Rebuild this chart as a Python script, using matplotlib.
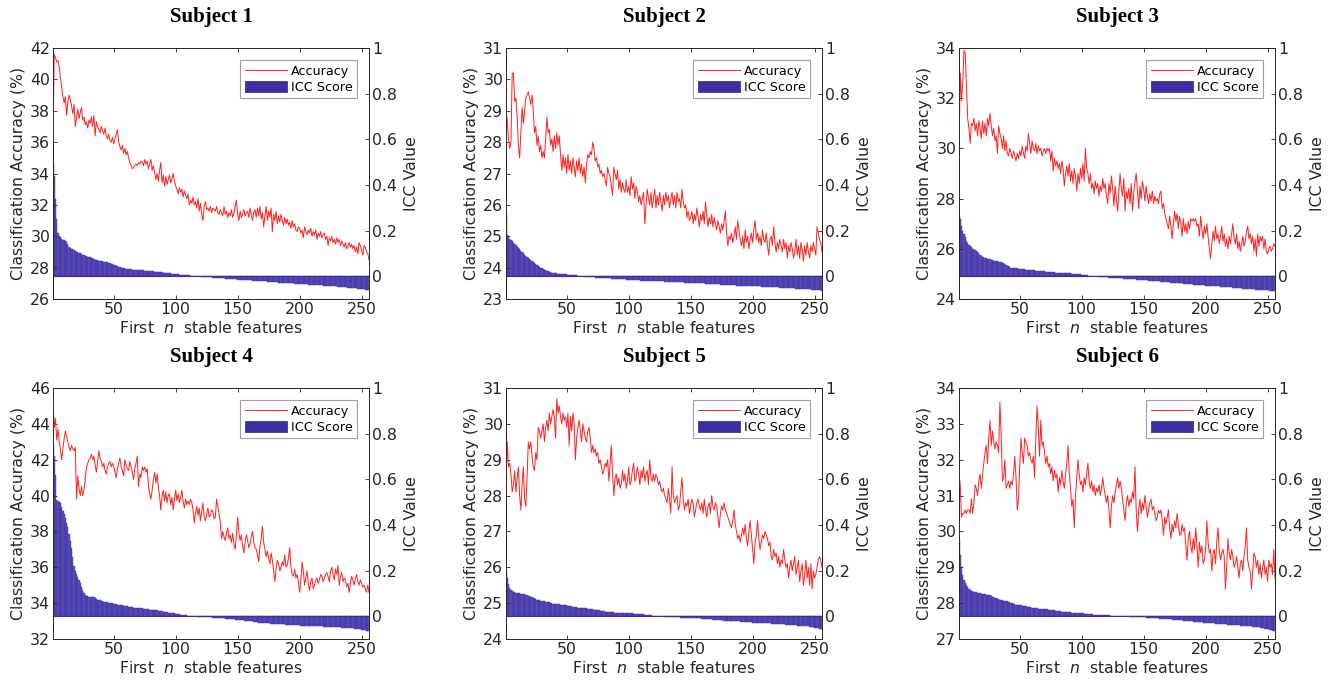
import matplotlib
matplotlib.use("Agg")
import matplotlib.pyplot as plt
from matplotlib.patches import Patch
from matplotlib.lines import Line2D
import numpy as np

# accuracy (%) for the first n stable features, n = 1..256
acc1 = [36.0, 41.6, 41.4, 41.1, 41.2, 40.8, 40.1, 39.5, 38.9, 38.5, 38.9, 37.7, 38.6, 39.0, 38.7, 38.3,
        37.8, 38.4, 37.0, 37.6, 38.1, 37.5, 37.9, 38.2, 37.4, 37.6, 37.1, 37.3, 36.9, 37.4, 37.2, 37.6,
        37.0, 37.7, 36.4, 37.3, 37.0, 36.8, 36.6, 37.0, 36.7, 36.5, 36.9, 36.4, 36.2, 36.5, 36.1, 36.0,
        36.3, 35.9, 36.2, 36.5, 36.8, 36.0, 35.7, 35.5, 35.8, 35.3, 35.6, 35.2, 35.4, 35.0, 34.7, 34.5,
        34.3, 34.4, 34.5, 34.6, 34.5, 34.7, 34.6, 34.8, 34.7, 34.5, 34.9, 34.6, 34.8, 34.3, 34.6, 34.9,
        34.2, 34.5, 34.1, 33.6, 34.0, 33.5, 34.2, 34.7, 33.4, 33.9, 33.2, 33.8, 33.3, 33.6, 33.9, 33.4,
        33.7, 34.0, 33.5, 33.2, 33.0, 32.7, 33.1, 32.8, 33.0, 32.5, 32.9, 32.6, 32.4, 32.7, 32.0, 32.3,
        32.1, 32.5, 32.0, 32.2, 31.8, 32.4, 31.6, 32.1, 31.4, 31.0, 31.9, 32.2, 31.7, 31.8, 31.6, 31.9,
        31.5, 31.8, 31.7, 31.6, 31.9, 31.5, 31.4, 31.7, 31.5, 31.3, 31.9, 31.4, 31.6, 31.2, 31.5, 31.3,
        31.7, 31.2, 31.5, 31.9, 32.3, 31.4, 31.0, 31.6, 31.2, 31.4, 31.7, 31.3, 31.5, 31.6, 31.2, 31.8,
        31.4, 31.0, 31.5, 31.7, 31.2, 31.8, 31.3, 31.9, 31.1, 31.5, 30.6, 31.3, 31.9, 31.0, 31.6, 31.2,
        31.8, 30.3, 31.4, 31.0, 31.6, 30.8, 31.3, 30.9, 31.4, 31.0, 30.7, 31.2, 30.8, 31.1, 30.7, 30.9,
        30.5, 31.0, 30.6, 30.8, 30.4, 30.3, 30.6, 30.5, 30.2, 30.4, 29.9, 30.6, 30.3, 30.1, 30.4, 30.2,
        30.5, 30.0, 30.3, 30.1, 30.4, 29.8, 30.2, 30.0, 30.3, 29.9, 30.1, 30.2, 29.8, 30.0, 29.4, 29.9,
        29.7, 30.0, 29.6, 29.8, 29.5, 29.9, 29.6, 29.8, 29.4, 29.7, 29.5, 29.3, 29.6, 29.2, 29.4, 29.6,
        29.3, 29.5, 29.2, 29.4, 29.0, 29.3, 28.9, 29.6, 29.4, 29.1, 28.8, 29.4, 29.3, 29.0, 28.9, 28.5]

acc2 = [29.0, 28.7, 28.1, 27.8, 28.0, 30.2, 30.2, 29.3, 29.4, 28.8, 27.9, 27.5, 28.3, 29.1, 28.6, 29.0,
        29.4, 29.5, 29.6, 29.4, 29.2, 29.5, 29.0, 28.3, 28.5, 27.9, 28.2, 27.7, 27.9, 27.5, 27.7, 27.5,
        28.1, 28.8, 28.3, 28.4, 27.9, 28.1, 27.7, 28.2, 27.8, 28.3, 27.9, 28.2, 27.6, 27.1, 27.6, 27.2,
        27.5, 27.0, 27.6, 27.1, 27.4, 27.0, 27.5, 27.2, 26.9, 27.4, 27.1, 27.5, 27.0, 27.3, 26.9, 27.2,
        26.7, 27.3, 27.6, 27.5, 27.7, 27.6, 28.0, 27.8, 27.4, 27.5, 27.2, 27.3, 27.0, 27.1, 26.9, 27.0,
        26.8, 26.6, 27.2, 27.0, 26.9, 26.6, 26.3, 27.2, 27.0, 26.8, 27.1, 26.5, 26.8, 26.4, 26.7, 26.5,
        26.4, 26.8, 26.4, 26.6, 26.3, 26.9, 26.5, 26.7, 26.2, 26.6, 26.4, 26.1, 26.3, 26.0, 26.2, 26.4,
        25.4, 26.0, 26.5, 26.2, 26.0, 26.4, 25.9, 26.2, 26.5, 25.9, 26.3, 26.0, 26.4, 26.1, 25.8, 26.3,
        26.0, 26.4, 26.1, 26.3, 25.9, 26.2, 26.4, 26.0, 26.3, 25.9, 26.4, 26.1, 26.2, 25.9, 26.5, 26.1,
        25.9, 26.0, 25.6, 25.8, 25.5, 25.6, 25.8, 25.4, 25.7, 25.5, 25.9, 25.6, 25.3, 25.7, 25.5, 25.8,
        25.4, 26.1, 25.7, 25.3, 25.6, 25.4, 25.7, 25.3, 25.6, 25.4, 25.2, 25.5, 25.3, 25.1, 25.4, 25.2,
        25.5, 25.8, 25.1, 24.7, 25.0, 24.9, 25.1, 24.8, 25.0, 25.3, 24.9, 25.5, 25.2, 24.9, 24.7, 25.0,
        24.6, 25.2, 24.8, 25.0, 24.6, 24.9, 25.1, 24.8, 25.2, 25.5, 24.9, 25.1, 24.8, 25.0, 24.7, 25.2,
        24.9, 24.8, 25.1, 24.7, 24.4, 24.9, 25.0, 24.7, 25.3, 24.8, 24.5, 24.8, 24.6, 24.9, 24.7, 24.5,
        24.9, 24.6, 24.8, 24.3, 24.7, 24.5, 24.8, 24.6, 24.3, 24.5, 24.9, 24.4, 24.7, 24.3, 24.8, 24.6,
        24.2, 24.7, 24.4, 24.8, 24.5, 24.3, 24.7, 24.5, 24.8, 24.6, 24.4, 25.3, 25.1, 24.9, 24.8, 24.5]

acc3 = [29.8, 33.0, 31.9, 32.6, 33.9, 33.8, 32.5, 31.2, 30.8, 30.2, 31.0, 30.9, 31.2, 30.7, 31.0, 30.5,
        31.1, 30.8, 30.4, 31.1, 30.6, 31.0, 30.5, 31.2, 30.9, 31.4, 30.9, 30.5, 30.8, 30.3, 30.5, 29.8,
        30.9, 30.6, 30.4, 30.0, 30.5, 29.9, 30.3, 29.8, 29.7, 30.0, 29.8, 29.6, 29.9, 29.7, 29.5, 29.8,
        29.6, 29.9, 29.7, 30.1, 29.8, 29.6, 30.1, 29.9, 30.6, 30.2, 29.8, 30.3, 30.0, 29.9, 30.2, 29.8,
        30.1, 29.9, 30.0, 29.7, 29.9, 30.0, 29.8, 30.0, 29.9, 30.0, 29.5, 29.9, 29.1, 29.6, 29.3, 29.5,
        29.2, 29.4, 29.0, 29.5, 29.2, 28.5, 29.0, 29.3, 28.9, 29.4, 28.7, 29.1, 28.6, 29.2, 28.9, 28.3,
        29.0, 28.6, 29.2, 28.8, 29.4, 28.7, 30.0, 29.2, 29.0, 28.6, 29.0, 28.4, 28.6, 28.2, 28.7, 28.4,
        28.6, 28.1, 28.5, 28.3, 28.8, 28.4, 28.6, 28.1, 27.8, 28.6, 28.2, 28.9, 28.4, 27.7, 28.5, 28.0,
        27.5, 28.3, 29.0, 28.4, 28.1, 28.8, 27.5, 28.3, 28.0, 28.4, 27.8, 28.6, 27.5, 28.2, 28.7, 29.0,
        28.3, 27.6, 28.5, 28.0, 28.7, 28.4, 27.9, 28.5, 28.1, 27.8, 28.2, 27.9, 28.3, 27.8, 28.1, 27.9,
        28.0, 27.8, 28.2, 28.3, 27.6, 27.8, 27.4, 27.2, 27.0, 26.8, 27.3, 26.9, 26.4, 27.0, 27.5, 27.1,
        27.4, 26.8, 27.3, 27.0, 26.5, 27.2, 26.7, 27.0, 26.6, 27.1, 26.8, 27.2, 27.1, 27.2, 27.1, 27.2,
        26.9, 27.0, 26.5, 27.3, 26.8, 26.4, 26.9, 26.6, 27.0, 26.5, 26.0, 25.6, 26.2, 26.7, 26.3, 26.9,
        26.4, 26.6, 26.2, 26.5, 26.9, 26.3, 26.6, 26.1, 26.4, 26.0, 26.5, 26.2, 26.6, 27.0, 26.4, 26.2,
        26.6, 26.0, 26.3, 25.9, 26.2, 26.5, 26.1, 26.3, 26.7, 26.9, 26.4, 26.6, 26.2, 26.5, 25.9, 26.4,
        25.7, 26.6, 26.1, 26.5, 26.3, 26.5, 26.0, 26.4, 25.9, 25.8, 26.0, 26.1, 25.9, 26.0, 26.2, 26.1]

acc4 = [45.2, 43.8, 44.3, 43.1, 43.7, 43.0, 42.6, 42.0, 42.6, 43.2, 43.6, 43.3, 43.0, 42.7, 42.5, 42.8,
        42.6, 42.5, 42.7, 39.8, 41.1, 40.4, 40.0, 40.5, 40.0, 40.3, 40.9, 41.6, 41.8, 42.0, 42.1, 42.3,
        42.0, 42.2, 41.7, 41.3, 41.9, 42.5, 42.1, 41.9, 41.6, 41.8, 41.4, 41.2, 41.6, 41.8, 41.9, 41.6,
        41.8, 41.6, 41.3, 41.0, 41.5, 41.8, 42.1, 41.6, 41.4, 41.1, 42.0, 41.7, 41.5, 41.4, 41.9, 41.6,
        41.3, 40.9, 41.5, 41.8, 42.2, 40.5, 41.2, 41.0, 41.6, 41.4, 41.6, 41.3, 41.5, 40.6, 40.1, 39.8,
        40.3, 40.9, 41.3, 40.7, 41.2, 40.5, 40.0, 39.2, 40.0, 40.3, 39.7, 40.2, 39.6, 40.0, 40.1, 39.5,
        39.9, 39.2, 39.8, 40.3, 39.7, 40.1, 39.6, 39.9, 40.3, 39.7, 39.3, 39.8, 39.5, 39.7, 39.5, 39.8,
        39.6, 39.2, 38.5, 39.0, 39.4, 38.9, 39.3, 38.6, 39.1, 39.6, 38.8, 38.6, 39.0, 39.3, 38.8, 38.9,
        39.2, 39.1, 38.7, 38.8, 39.8, 39.4, 39.0, 38.5, 37.6, 38.0, 37.7, 37.5, 37.9, 38.2, 37.6, 37.8,
        37.4, 37.9, 37.3, 37.0, 37.8, 38.8, 37.9, 37.5, 37.8, 37.2, 36.8, 37.4, 37.8, 37.5, 37.1, 37.3,
        37.7, 38.0, 37.4, 37.1, 37.0, 36.7, 36.3, 37.2, 37.6, 38.3, 37.4, 37.0, 36.6, 36.9, 36.5, 36.2,
        36.8, 36.4, 35.8, 35.2, 35.9, 36.4, 36.2, 35.8, 36.0, 36.3, 36.1, 36.7, 36.0, 36.1, 36.5, 37.1,
        36.0, 35.6, 35.5, 35.9, 35.4, 35.6, 35.2, 34.6, 35.3, 36.3, 35.8, 35.0, 35.4, 35.8, 35.1, 34.7,
        35.2, 35.4, 34.8, 35.0, 35.3, 35.4, 35.1, 35.3, 35.6, 35.5, 35.2, 35.4, 35.6, 35.7, 35.5, 35.2,
        35.8, 36.0, 35.6, 35.3, 35.9, 35.6, 36.1, 35.0, 35.5, 35.7, 35.2, 35.4, 35.3, 34.9, 35.1, 34.6,
        35.1, 35.5, 35.3, 35.0, 35.4, 35.6, 35.2, 35.0, 35.3, 35.1, 34.9, 35.0, 34.8, 34.6, 35.0, 34.6]

acc5 = [28.2, 29.5, 28.8, 28.9, 28.6, 28.1, 28.3, 28.7, 28.1, 28.5, 28.8, 28.0, 27.6, 28.3, 28.8, 27.9,
        27.7, 28.5, 29.5, 29.3, 29.5, 29.1, 28.8, 28.7, 29.2, 29.0, 29.9, 29.8, 29.6, 29.8, 30.0, 29.5,
        29.9, 30.1, 29.8, 30.3, 30.0, 30.2, 30.4, 30.2, 29.6, 30.7, 30.3, 30.5, 30.2, 30.0, 30.3, 30.1,
        30.2, 29.9, 30.3, 29.4, 30.2, 29.8, 30.3, 30.0, 29.0, 29.6, 29.9, 30.1, 29.8, 29.5, 30.0, 29.8,
        29.6, 29.5, 29.8, 29.9, 29.6, 29.2, 29.4, 29.2, 29.3, 29.1, 29.2, 28.9, 29.0, 28.8, 28.6, 28.7,
        28.9, 28.8, 29.0, 28.4, 28.9, 29.4, 28.6, 28.0, 28.5, 28.6, 28.3, 28.5, 28.2, 28.3, 28.7, 28.4,
        28.6, 28.2, 28.4, 28.8, 28.3, 28.4, 28.7, 28.9, 28.4, 28.5, 28.8, 28.6, 28.3, 28.7, 28.5, 28.8,
        28.4, 28.6, 28.7, 28.3, 29.0, 28.5, 28.4, 28.6, 28.4, 28.6, 28.5, 28.3, 28.4, 28.2, 28.1, 28.2,
        28.0, 27.9, 27.8, 28.2, 27.9, 27.5, 28.8, 28.0, 27.8, 27.9, 28.0, 27.6, 27.7, 28.1, 28.5, 27.9,
        27.6, 27.8, 27.7, 27.9, 27.5, 27.7, 27.9, 27.8, 27.4, 27.6, 27.8, 27.9, 27.7, 27.6, 27.8, 27.5,
        27.9, 27.6, 27.4, 27.7, 27.8, 27.5, 28.0, 27.7, 27.6, 27.8, 27.7, 27.4, 27.1, 27.5, 27.7, 27.6,
        27.8, 27.6, 27.5, 27.4, 27.3, 27.2, 27.1, 27.3, 27.6, 27.2, 27.0, 26.8, 26.9, 26.7, 26.9, 27.1,
        26.9, 27.2, 26.8, 26.6, 27.0, 27.3, 26.9, 26.5, 26.1, 26.7, 26.9, 27.3, 26.8, 26.5, 26.7, 26.9,
        26.8, 27.0, 26.9, 26.8, 26.6, 26.7, 26.3, 26.2, 26.5, 26.3, 26.4, 26.1, 26.3, 26.0, 26.2, 26.1,
        26.5, 26.2, 26.0, 26.1, 25.7, 26.0, 26.2, 25.9, 26.1, 26.3, 25.8, 26.0, 26.2, 25.6, 25.9, 26.1,
        25.5, 25.8, 26.2, 25.7, 26.0, 25.5, 26.1, 25.4, 25.9, 25.7, 25.8, 26.0, 26.2, 26.3, 26.2, 26.0]

acc6 = [31.6, 31.3, 30.4, 30.5, 30.5, 30.6, 30.5, 30.6, 30.6, 30.5, 30.9, 30.5, 30.8, 31.3, 31.2, 31.0,
        31.4, 31.6, 31.2, 31.6, 31.9, 32.2, 32.4, 31.9, 32.6, 33.1, 32.4, 32.8, 32.5, 32.3, 32.5, 32.4,
        32.2, 33.6, 32.7, 31.4, 31.5, 32.0, 31.2, 31.3, 31.4, 31.2, 31.4, 31.3, 31.6, 32.1, 31.5, 30.6,
        30.9, 31.8, 32.6, 32.2, 31.9, 32.6, 32.5, 32.4, 32.1, 32.2, 32.0, 31.9, 32.1, 31.5, 32.6, 33.5,
        32.9, 32.1, 33.1, 32.4, 32.5, 32.2, 31.9, 32.1, 31.8, 31.9, 31.6, 31.8, 31.4, 31.7, 31.5, 31.6,
        31.1, 31.5, 31.3, 31.7, 31.4, 31.2, 31.6, 31.9, 32.4, 31.6, 31.2, 30.7, 30.9, 30.1, 31.0, 31.5,
        32.0, 31.6, 31.3, 31.4, 31.1, 31.5, 31.3, 31.6, 31.9, 31.4, 31.2, 31.4, 31.1, 31.3, 31.0, 31.2,
        31.1, 31.3, 31.0, 31.2, 31.5, 31.2, 31.0, 30.8, 31.0, 30.6, 30.1, 30.7, 31.0, 30.8, 31.1, 31.3,
        31.5, 31.2, 31.4, 31.2, 30.9, 30.6, 30.3, 30.8, 31.0, 30.7, 30.9, 30.8, 31.1, 30.9, 31.8, 30.6,
        30.0, 30.6, 30.9, 30.5, 30.8, 30.6, 31.0, 30.7, 30.4, 30.6, 30.8, 30.9, 30.6, 30.7, 30.5, 30.3,
        30.4, 30.6, 30.5, 30.6, 30.3, 29.9, 30.4, 30.2, 30.4, 30.6, 30.1, 29.8, 30.2, 30.0, 30.3, 30.1,
        30.5, 30.2, 29.9, 29.9, 30.2, 30.0, 30.1, 29.6, 29.2, 29.8, 30.0, 29.6, 29.4, 29.8, 29.5, 30.1,
        29.6, 29.0, 29.7, 29.4, 29.6, 29.1, 29.2, 29.5, 30.3, 29.7, 29.4, 29.5, 28.9, 29.4, 29.5, 29.1,
        29.7, 30.1, 29.5, 29.2, 29.4, 29.5, 29.3, 28.4, 29.0, 29.8, 29.4, 29.2, 29.5, 29.3, 29.0, 29.1,
        29.3, 29.0, 28.7, 29.1, 29.2, 28.9, 29.3, 29.6, 30.1, 29.2, 29.0, 28.9, 28.4, 28.9, 29.4, 29.3,
        29.0, 29.2, 28.8, 29.1, 28.7, 29.0, 29.2, 28.8, 29.0, 28.6, 29.2, 29.0, 29.1, 28.8, 29.5, 28.7]

# ICC score of each feature, sorted from most to least stable
icc1 = [0.49, 0.44, 0.34, 0.25, 0.19, 0.175, 0.17, 0.165, 0.16, 0.158, 0.155, 0.15, 0.14, 0.13, 0.125, 0.12,
        0.118, 0.115, 0.11, 0.108, 0.105, 0.102, 0.1, 0.098, 0.095, 0.092, 0.09, 0.088, 0.086, 0.084, 0.082, 0.08,
        0.078, 0.076, 0.072, 0.07, 0.069, 0.068, 0.067, 0.066, 0.065, 0.064, 0.063, 0.062, 0.06, 0.058, 0.056, 0.054,
        0.052, 0.05, 0.048, 0.046, 0.044, 0.042, 0.04, 0.038, 0.036, 0.035, 0.034, 0.033, 0.032, 0.031, 0.03, 0.03,
        0.029, 0.029, 0.028, 0.028, 0.027, 0.027, 0.026, 0.026, 0.025, 0.025, 0.024, 0.024, 0.023, 0.023, 0.022, 0.022,
        0.021, 0.021, 0.02, 0.02, 0.019, 0.019, 0.018, 0.018, 0.017, 0.016, 0.015, 0.015, 0.014, 0.013, 0.012, 0.012,
        0.011, 0.01, 0.01, 0.009, 0.008, 0.008, 0.007, 0.006, 0.006, 0.005, 0.005, 0.004, 0.004, 0.003, 0.003, 0.002,
        0.002, 0.001, 0.001, 0.0, 0.0, 0.0, -0.001, -0.001, -0.002, -0.002, -0.002, -0.003, -0.003, -0.004, -0.004, -0.005,
        -0.005, -0.006, -0.006, -0.007, -0.007, -0.008, -0.008, -0.009, -0.009, -0.01, -0.01, -0.011, -0.011, -0.012, -0.012, -0.013,
        -0.013, -0.013, -0.014, -0.014, -0.014, -0.015, -0.015, -0.015, -0.016, -0.016, -0.016, -0.017, -0.017, -0.017, -0.018, -0.018,
        -0.018, -0.019, -0.019, -0.019, -0.02, -0.02, -0.021, -0.021, -0.021, -0.022, -0.022, -0.023, -0.023, -0.024, -0.024, -0.025,
        -0.025, -0.025, -0.026, -0.026, -0.027, -0.027, -0.028, -0.028, -0.028, -0.029, -0.029, -0.03, -0.03, -0.03, -0.031, -0.031,
        -0.031, -0.032, -0.032, -0.033, -0.033, -0.033, -0.034, -0.034, -0.035, -0.035, -0.035, -0.036, -0.036, -0.036, -0.037, -0.037,
        -0.037, -0.038, -0.038, -0.038, -0.039, -0.039, -0.039, -0.04, -0.04, -0.04, -0.041, -0.041, -0.041, -0.042, -0.042, -0.043,
        -0.043, -0.043, -0.044, -0.044, -0.045, -0.045, -0.046, -0.046, -0.047, -0.047, -0.048, -0.048, -0.049, -0.049, -0.05, -0.05,
        -0.051, -0.051, -0.052, -0.052, -0.053, -0.053, -0.054, -0.055, -0.055, -0.056, -0.057, -0.058, -0.059, -0.06, -0.061, -0.062]

icc2 = [0.27, 0.18, 0.172, 0.165, 0.158, 0.152, 0.146, 0.14, 0.135, 0.13, 0.124, 0.118, 0.112, 0.106, 0.1, 0.095,
        0.09, 0.085, 0.08, 0.075, 0.07, 0.065, 0.06, 0.056, 0.052, 0.048, 0.045, 0.042, 0.038, 0.035, 0.032, 0.029,
        0.026, 0.024, 0.022, 0.02, 0.018, 0.016, 0.015, 0.014, 0.013, 0.012, 0.011, 0.011, 0.01, 0.01, 0.009, 0.009,
        0.008, 0.008, 0.007, 0.007, 0.006, 0.006, 0.005, 0.004, 0.004, 0.003, 0.002, 0.002, 0.001, 0.0, -0.001, -0.001,
        -0.002, -0.002, -0.003, -0.003, -0.004, -0.004, -0.005, -0.005, -0.006, -0.006, -0.007, -0.007, -0.007, -0.008, -0.008, -0.009,
        -0.009, -0.009, -0.01, -0.01, -0.01, -0.011, -0.011, -0.011, -0.012, -0.012, -0.012, -0.013, -0.013, -0.013, -0.014, -0.014,
        -0.014, -0.015, -0.015, -0.015, -0.016, -0.016, -0.016, -0.017, -0.017, -0.017, -0.018, -0.018, -0.018, -0.019, -0.019, -0.019,
        -0.02, -0.02, -0.02, -0.02, -0.021, -0.021, -0.021, -0.021, -0.022, -0.022, -0.022, -0.022, -0.023, -0.023, -0.023, -0.023,
        -0.024, -0.024, -0.024, -0.024, -0.025, -0.025, -0.025, -0.025, -0.026, -0.026, -0.026, -0.026, -0.027, -0.027, -0.027, -0.027,
        -0.028, -0.028, -0.028, -0.028, -0.029, -0.029, -0.029, -0.03, -0.03, -0.03, -0.03, -0.031, -0.031, -0.031, -0.032, -0.032,
        -0.032, -0.033, -0.033, -0.033, -0.034, -0.034, -0.034, -0.035, -0.035, -0.035, -0.036, -0.036, -0.036, -0.037, -0.037, -0.037,
        -0.038, -0.038, -0.038, -0.039, -0.039, -0.039, -0.04, -0.04, -0.04, -0.04, -0.041, -0.041, -0.041, -0.041, -0.042, -0.042,
        -0.042, -0.042, -0.043, -0.043, -0.043, -0.043, -0.044, -0.044, -0.044, -0.044, -0.045, -0.045, -0.045, -0.045, -0.046, -0.046,
        -0.046, -0.046, -0.047, -0.047, -0.047, -0.047, -0.048, -0.048, -0.048, -0.048, -0.049, -0.049, -0.049, -0.05, -0.05, -0.05,
        -0.05, -0.051, -0.051, -0.051, -0.052, -0.052, -0.052, -0.053, -0.053, -0.053, -0.054, -0.054, -0.054, -0.055, -0.055, -0.055,
        -0.056, -0.056, -0.057, -0.057, -0.057, -0.058, -0.058, -0.059, -0.059, -0.06, -0.06, -0.061, -0.061, -0.062, -0.062, -0.063]

icc3 = [0.265, 0.25, 0.22, 0.2, 0.185, 0.17, 0.155, 0.145, 0.138, 0.132, 0.126, 0.12, 0.117, 0.114, 0.111, 0.108,
        0.1, 0.095, 0.09, 0.086, 0.083, 0.08, 0.078, 0.076, 0.075, 0.074, 0.072, 0.07, 0.068, 0.067, 0.066, 0.065,
        0.064, 0.062, 0.06, 0.058, 0.056, 0.053, 0.05, 0.046, 0.043, 0.04, 0.038, 0.037, 0.036, 0.035, 0.034, 0.034,
        0.033, 0.033, 0.032, 0.031, 0.031, 0.03, 0.029, 0.029, 0.028, 0.027, 0.027, 0.026, 0.025, 0.025, 0.024, 0.024,
        0.023, 0.023, 0.022, 0.022, 0.021, 0.021, 0.02, 0.02, 0.019, 0.019, 0.018, 0.018, 0.017, 0.017, 0.016, 0.016,
        0.016, 0.015, 0.015, 0.014, 0.014, 0.014, 0.013, 0.013, 0.012, 0.012, 0.012, 0.011, 0.011, 0.01, 0.01, 0.009,
        0.009, 0.008, 0.008, 0.007, 0.006, 0.005, 0.004, 0.003, 0.003, 0.002, 0.002, 0.001, 0.001, 0.0, 0.0, -0.001,
        -0.001, -0.002, -0.002, -0.003, -0.003, -0.004, -0.004, -0.005, -0.005, -0.006, -0.006, -0.006, -0.007, -0.007, -0.008, -0.008,
        -0.008, -0.009, -0.009, -0.01, -0.01, -0.011, -0.011, -0.011, -0.012, -0.012, -0.013, -0.013, -0.013, -0.014, -0.014, -0.015,
        -0.015, -0.015, -0.016, -0.016, -0.016, -0.017, -0.017, -0.018, -0.018, -0.019, -0.019, -0.02, -0.02, -0.021, -0.021, -0.022,
        -0.022, -0.023, -0.023, -0.024, -0.024, -0.025, -0.025, -0.026, -0.026, -0.027, -0.027, -0.028, -0.028, -0.029, -0.029, -0.03,
        -0.03, -0.031, -0.031, -0.032, -0.032, -0.033, -0.033, -0.034, -0.034, -0.035, -0.035, -0.036, -0.036, -0.037, -0.037, -0.038,
        -0.038, -0.038, -0.039, -0.039, -0.04, -0.04, -0.04, -0.041, -0.041, -0.042, -0.042, -0.043, -0.043, -0.043, -0.044, -0.044,
        -0.045, -0.045, -0.045, -0.046, -0.046, -0.047, -0.047, -0.047, -0.048, -0.048, -0.049, -0.049, -0.049, -0.05, -0.05, -0.051,
        -0.051, -0.052, -0.052, -0.053, -0.053, -0.054, -0.054, -0.055, -0.055, -0.056, -0.056, -0.057, -0.057, -0.058, -0.058, -0.059,
        -0.059, -0.06, -0.06, -0.06, -0.061, -0.061, -0.061, -0.062, -0.062, -0.062, -0.062, -0.063, -0.063, -0.063, -0.063, -0.064]

icc4 = [0.75, 0.7, 0.62, 0.51, 0.505, 0.5, 0.495, 0.48, 0.46, 0.45, 0.43, 0.41, 0.39, 0.36, 0.33, 0.3,
        0.26, 0.22, 0.2, 0.185, 0.17, 0.16, 0.145, 0.13, 0.115, 0.1, 0.093, 0.09, 0.088, 0.086, 0.085, 0.084,
        0.083, 0.082, 0.08, 0.076, 0.073, 0.072, 0.07, 0.068, 0.066, 0.064, 0.062, 0.061, 0.06, 0.059, 0.058, 0.057,
        0.056, 0.055, 0.054, 0.052, 0.051, 0.05, 0.049, 0.048, 0.047, 0.046, 0.045, 0.044, 0.043, 0.042, 0.041, 0.04,
        0.039, 0.038, 0.037, 0.036, 0.036, 0.035, 0.035, 0.034, 0.034, 0.033, 0.032, 0.032, 0.031, 0.03, 0.029, 0.028,
        0.028, 0.027, 0.026, 0.026, 0.025, 0.024, 0.023, 0.022, 0.021, 0.02, 0.019, 0.018, 0.017, 0.016, 0.015, 0.014,
        0.013, 0.013, 0.012, 0.011, 0.01, 0.009, 0.008, 0.007, 0.007, 0.006, 0.005, 0.004, 0.003, 0.002, 0.002, 0.001,
        0.0, 0.0, -0.001, -0.001, -0.001, -0.002, -0.002, -0.002, -0.003, -0.003, -0.003, -0.004, -0.004, -0.004, -0.005, -0.005,
        -0.005, -0.006, -0.006, -0.007, -0.007, -0.008, -0.008, -0.009, -0.009, -0.01, -0.01, -0.011, -0.011, -0.012, -0.012, -0.013,
        -0.013, -0.014, -0.014, -0.015, -0.015, -0.016, -0.016, -0.017, -0.017, -0.018, -0.018, -0.019, -0.019, -0.02, -0.02, -0.021,
        -0.022, -0.023, -0.024, -0.025, -0.026, -0.027, -0.028, -0.029, -0.03, -0.03, -0.031, -0.031, -0.031, -0.032, -0.032, -0.032,
        -0.033, -0.033, -0.033, -0.034, -0.034, -0.034, -0.035, -0.035, -0.035, -0.036, -0.036, -0.036, -0.037, -0.037, -0.037, -0.038,
        -0.038, -0.038, -0.039, -0.039, -0.039, -0.04, -0.04, -0.04, -0.041, -0.041, -0.041, -0.042, -0.042, -0.042, -0.043, -0.043,
        -0.043, -0.043, -0.044, -0.044, -0.044, -0.044, -0.045, -0.045, -0.045, -0.045, -0.046, -0.046, -0.046, -0.046, -0.047, -0.047,
        -0.047, -0.047, -0.048, -0.048, -0.048, -0.048, -0.049, -0.049, -0.049, -0.05, -0.05, -0.05, -0.051, -0.051, -0.051, -0.052,
        -0.052, -0.053, -0.053, -0.054, -0.054, -0.055, -0.056, -0.057, -0.058, -0.059, -0.06, -0.061, -0.062, -0.064, -0.065, -0.067]

icc5 = [0.2, 0.167, 0.14, 0.125, 0.115, 0.11, 0.107, 0.104, 0.103, 0.102, 0.101, 0.1, 0.099, 0.098, 0.097, 0.096,
        0.094, 0.092, 0.09, 0.088, 0.086, 0.083, 0.08, 0.078, 0.075, 0.073, 0.071, 0.07, 0.068, 0.067, 0.066, 0.065,
        0.064, 0.063, 0.062, 0.06, 0.059, 0.057, 0.055, 0.054, 0.053, 0.053, 0.052, 0.052, 0.051, 0.05, 0.049, 0.048,
        0.047, 0.047, 0.046, 0.045, 0.044, 0.043, 0.042, 0.041, 0.04, 0.039, 0.038, 0.038, 0.037, 0.037, 0.036, 0.036,
        0.035, 0.034, 0.033, 0.032, 0.031, 0.031, 0.03, 0.029, 0.028, 0.027, 0.026, 0.025, 0.024, 0.023, 0.022, 0.021,
        0.02, 0.02, 0.019, 0.019, 0.018, 0.018, 0.017, 0.017, 0.016, 0.016, 0.016, 0.015, 0.015, 0.014, 0.014, 0.014,
        0.013, 0.013, 0.013, 0.013, 0.012, 0.012, 0.012, 0.011, 0.011, 0.01, 0.01, 0.01, 0.009, 0.009, 0.008, 0.008,
        0.007, 0.006, 0.005, 0.004, 0.003, 0.003, 0.002, 0.002, 0.001, 0.001, 0.0, 0.0, 0.0, -0.001, -0.001, -0.001,
        -0.002, -0.002, -0.002, -0.003, -0.003, -0.003, -0.004, -0.004, -0.004, -0.005, -0.005, -0.005, -0.005, -0.006, -0.006, -0.006,
        -0.006, -0.007, -0.007, -0.007, -0.007, -0.008, -0.008, -0.008, -0.009, -0.009, -0.009, -0.01, -0.01, -0.01, -0.011, -0.011,
        -0.011, -0.012, -0.012, -0.013, -0.013, -0.014, -0.014, -0.015, -0.015, -0.016, -0.016, -0.017, -0.017, -0.018, -0.018, -0.018,
        -0.019, -0.019, -0.019, -0.02, -0.02, -0.021, -0.021, -0.021, -0.022, -0.022, -0.022, -0.023, -0.023, -0.024, -0.024, -0.024,
        -0.025, -0.025, -0.026, -0.026, -0.026, -0.027, -0.027, -0.028, -0.028, -0.028, -0.029, -0.029, -0.029, -0.03, -0.03, -0.03,
        -0.031, -0.031, -0.031, -0.032, -0.032, -0.032, -0.033, -0.033, -0.033, -0.034, -0.034, -0.034, -0.035, -0.035, -0.035, -0.036,
        -0.036, -0.036, -0.037, -0.037, -0.037, -0.038, -0.038, -0.039, -0.039, -0.04, -0.04, -0.041, -0.041, -0.042, -0.042, -0.043,
        -0.043, -0.044, -0.044, -0.045, -0.045, -0.046, -0.047, -0.048, -0.049, -0.05, -0.051, -0.052, -0.053, -0.054, -0.056, -0.057]

icc6 = [0.335, 0.27, 0.215, 0.18, 0.16, 0.145, 0.135, 0.127, 0.12, 0.116, 0.112, 0.11, 0.108, 0.106, 0.104, 0.102,
        0.101, 0.1, 0.099, 0.098, 0.097, 0.096, 0.095, 0.094, 0.093, 0.091, 0.089, 0.086, 0.083, 0.08, 0.078, 0.076,
        0.074, 0.072, 0.07, 0.069, 0.068, 0.067, 0.066, 0.065, 0.063, 0.061, 0.059, 0.057, 0.055, 0.053, 0.051, 0.05,
        0.049, 0.048, 0.047, 0.046, 0.045, 0.044, 0.043, 0.042, 0.041, 0.04, 0.039, 0.038, 0.037, 0.036, 0.035, 0.034,
        0.033, 0.033, 0.032, 0.032, 0.031, 0.031, 0.03, 0.03, 0.029, 0.029, 0.028, 0.027, 0.026, 0.025, 0.024, 0.023,
        0.022, 0.021, 0.021, 0.02, 0.02, 0.019, 0.019, 0.018, 0.018, 0.017, 0.017, 0.016, 0.016, 0.015, 0.015, 0.014,
        0.014, 0.013, 0.013, 0.012, 0.012, 0.011, 0.011, 0.01, 0.01, 0.009, 0.009, 0.008, 0.008, 0.007, 0.007, 0.006,
        0.006, 0.005, 0.005, 0.005, 0.004, 0.004, 0.004, 0.003, 0.003, 0.003, 0.002, 0.002, 0.002, 0.002, 0.001, 0.001,
        0.001, 0.001, 0.0, 0.0, 0.0, 0.0, -0.001, -0.001, -0.001, -0.001, -0.002, -0.002, -0.002, -0.002, -0.003, -0.003,
        -0.003, -0.003, -0.004, -0.004, -0.004, -0.005, -0.005, -0.006, -0.006, -0.007, -0.007, -0.008, -0.008, -0.009, -0.009, -0.01,
        -0.01, -0.01, -0.011, -0.011, -0.012, -0.012, -0.012, -0.013, -0.013, -0.014, -0.014, -0.014, -0.015, -0.015, -0.016, -0.016,
        -0.016, -0.017, -0.017, -0.018, -0.018, -0.019, -0.019, -0.02, -0.02, -0.021, -0.022, -0.022, -0.023, -0.024, -0.024, -0.025,
        -0.025, -0.026, -0.026, -0.027, -0.027, -0.028, -0.028, -0.029, -0.029, -0.03, -0.03, -0.031, -0.031, -0.032, -0.032, -0.033,
        -0.033, -0.033, -0.034, -0.034, -0.035, -0.035, -0.035, -0.036, -0.036, -0.037, -0.037, -0.037, -0.038, -0.038, -0.039, -0.039,
        -0.039, -0.04, -0.04, -0.041, -0.041, -0.042, -0.042, -0.043, -0.043, -0.044, -0.044, -0.045, -0.045, -0.046, -0.047, -0.047,
        -0.048, -0.049, -0.049, -0.05, -0.051, -0.052, -0.053, -0.054, -0.055, -0.056, -0.058, -0.06, -0.062, -0.064, -0.066, -0.067]

titles = ['Subject 1', 'Subject 2', 'Subject 3', 'Subject 4', 'Subject 5', 'Subject 6']
acc_all = [acc1, acc2, acc3, acc4, acc5, acc6]
icc_all = [icc1, icc2, icc3, icc4, icc5, icc6]
# left axis limits and tick step per subject
acc_lims = [(26, 42, 2), (23, 31, 1), (24, 34, 2), (32, 46, 2), (24, 31, 1), (27, 34, 1)]
icc_ticks = [0, 0.2, 0.4, 0.6, 0.8, 1]
icc_ticklabels = ['0', '0.2', '0.4', '0.6', '0.8', '1']

dark = '#262626'
bar_face = '#6055bd'
bar_edge = '#3a2ea2'

fig = plt.figure(figsize=(13.38, 6.86), dpi=100)

lefts = [53, 506, 959]
tops = [48, 388]
W, H = 316, 251
FW, FH = 1338, 686

for i in range(6):
    r, c = divmod(i, 3)
    rect = [lefts[c] / FW, 1 - (tops[r] + H) / FH, W / FW, H / FH]
    ax = fig.add_axes(rect)
    ax2 = ax.twinx()

    acc = acc_all[i]
    icc = icc_all[i]
    x = np.arange(1, len(acc) + 1)
    xb = np.arange(1, len(icc) + 1)

    ax2.bar(xb, icc, width=1.0, color=bar_face, edgecolor=bar_edge, linewidth=0.3)
    ax2.axhline(0, color=bar_edge, lw=0.8)
    ax.plot(x, acc, color='#ff2020', lw=0.7)

    # keep the line on top of the bars
    ax.set_zorder(ax2.get_zorder() + 1)
    ax.patch.set_visible(False)

    lo, hi, step = acc_lims[i]
    ax.set_xlim(1, 256)
    ax.set_ylim(lo, hi)
    ax.set_yticks(np.arange(lo, hi + step / 2, step))
    ax.set_xticks([50, 100, 150, 200, 250])
    ax2.set_ylim(-0.1, 1)
    ax2.set_yticks(icc_ticks)
    ax2.set_yticklabels(icc_ticklabels)

    ax.tick_params(axis='both', direction='in', length=3, width=0.6, colors=dark,
                   labelsize=11.3, top=True, right=False, pad=2)
    ax2.tick_params(axis='y', direction='in', length=3, width=0.6, colors=dark,
                    labelsize=11.3, pad=2)
    for a in (ax, ax2):
        for s in a.spines.values():
            s.set_color(dark)
            s.set_linewidth(0.6)

    ax.set_ylabel('Classification Accuracy (%)', fontsize=11.3, color=dark, labelpad=3)
    ax2.set_ylabel('ICC Value', fontsize=11.3, color=dark, labelpad=5)
    ax.set_xlabel('First  $n$  stable features', fontsize=11.3, color=dark, labelpad=2)
    ax.set_title(titles[i], fontsize=15, fontweight='bold', family='Liberation Serif',
                 pad=19)

    handles = [Line2D([], [], color='#ff2020', lw=0.7),
               Patch(facecolor='#3b2fa3', edgecolor='#2a1f8c', lw=0.5)]
    leg = ax.legend(handles, ['Accuracy', 'ICC Score'], loc='upper right', fontsize=9.2,
                    fancybox=False, framealpha=1, edgecolor='#a0a0a0',
                    handlelength=3.3, handleheight=0.9, borderpad=0.35,
                    labelspacing=0.25, handletextpad=0.3, borderaxespad=0.95)
    leg.get_frame().set_linewidth(0.8)

fig.savefig('out.png', dpi=100)
